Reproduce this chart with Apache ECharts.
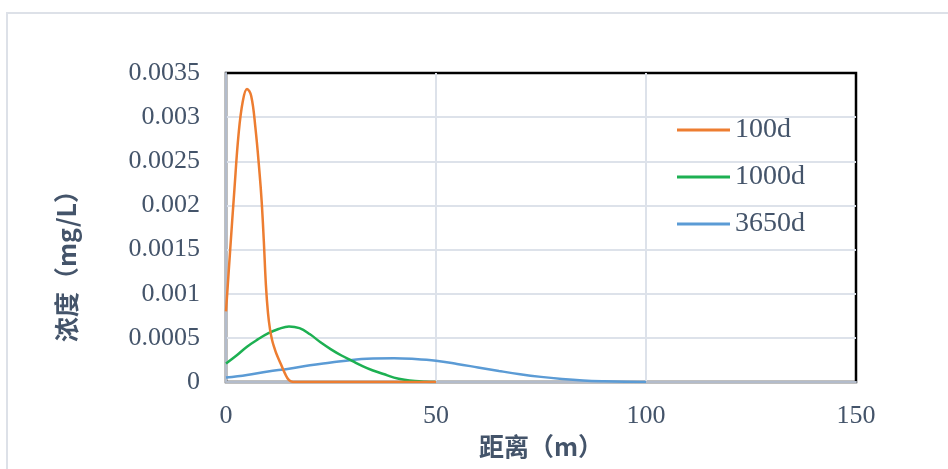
<!DOCTYPE html>
<html>
<head>
<meta charset="utf-8">
<script src="https://cdn.jsdelivr.net/npm/echarts@6/dist/echarts.min.js"></script>
<style>
  html, body { margin: 0; padding: 0; background: #fff; }
  #chart { width: 948px; height: 469px; }
</style>
</head>
<body>
<div id="chart"></div>
<script>
  // 100d
  const x100 = [0, 1, 2, 3, 4, 5, 6, 7, 8, 8.5, 9, 9.5, 10, 10.5, 11, 11.5, 12, 13, 14, 15, 16, 20, 30, 40, 50]
  const y100 = [0.00080, 0.00150, 0.00218, 0.00281, 0.00318, 0.00332, 0.00324, 0.00288, 0.00236, 0.00204,
                0.00160, 0.00110, 0.00078, 0.00059, 0.00047, 0.00039, 0.00032, 0.00021, 0.00010, 0.00002,
                0, 0, 0, 0, 0]
  // 1000d
  const x1000 = [0, 2.5, 5, 7.5, 10, 12.5, 15, 17.5, 20, 22.5, 25, 27.5, 30, 32.5, 35, 37.5, 40, 42.5, 45, 47.5, 50]
  const y1000 = [0.00021, 0.00030, 0.00040, 0.00048, 0.00055, 0.00060, 0.00063, 0.00061, 0.00054, 0.00045,
                 0.00037, 0.00030, 0.00024, 0.00018, 0.00013, 0.00009, 0.00005, 0.000025, 0.00001, 0.000003, 0]
  // 3650d
  const x3650 = [0, 5, 10, 15, 20, 25, 30, 35, 40, 45, 50, 55, 60, 65, 70, 75, 80, 85, 90, 95, 100]
  const y3650 = [0.00005, 0.00008, 0.00012, 0.00015, 0.00019, 0.00022, 0.00025, 0.000265, 0.00027, 0.00026,
                 0.00024, 0.000205, 0.000165, 0.000125, 0.000088, 0.000058, 0.000035, 0.000018, 0.000008, 0.000002, 0]
  const seriesNames = ['100d', '1000d', '3650d']
  const colors = ['#ED7D31', '#1DB052', '#5B9BD5']

  const pairs = (xs, ys) => xs.map((x, i) => [x, ys[i]])
  const seriesData = [pairs(x100, y100), pairs(x1000, y1000), pairs(x3650, y3650)]

  const textColor = '#44546a'
  const serif = '"Liberation Serif", "Times New Roman", serif'

  let myChart = echarts.init(document.getElementById('chart'))
  let option = {
    animation: false,
    color: colors,
    grid: {
      left: 226, right: 92, top: 73, bottom: 87,
      outerBoundsMode: 'none',
      containLabel: false,
      show: true,
      borderColor: '#000',
      borderWidth: 2.5
    },
    legend: {
      orient: 'vertical',
      left: 672,
      top: 111,
      icon: 'rect',
      itemWidth: 53,
      itemHeight: 3,
      itemGap: 19,
      textStyle: { fontFamily: serif, fontSize: 28, color: textColor },
      data: seriesNames
    },
    xAxis: {
      type: 'value',
      min: 0, max: 150, interval: 50,
      axisLine: { show: true, onZero: false, lineStyle: { color: '#b3bccb', width: 2 } },
      axisTick: { show: false },
      axisLabel: { fontFamily: serif, fontSize: 26, color: textColor, margin: 21 },
      splitLine: { show: true, showMinLine: false, showMaxLine: false, lineStyle: { color: '#dde2ea', width: 2 } },
      name: '距离（m）',
      nameLocation: 'middle',
      nameGap: 51,
      nameTextStyle: { fontFamily: '"Noto Sans CJK SC", sans-serif', fontWeight: 'bold', fontSize: 25, color: textColor }
    },
    yAxis: {
      type: 'value',
      min: 0, max: 0.0035, interval: 0.0005,
      axisLine: { show: true, lineStyle: { color: '#b3bccb', width: 2 } },
      axisTick: { show: false },
      axisLabel: {
        fontFamily: serif, fontSize: 26, color: textColor, margin: 26,
        formatter: v => String(Number(v.toFixed(4)))
      },
      splitLine: { show: true, showMinLine: false, showMaxLine: false, lineStyle: { color: '#dde2ea', width: 2 } }
    },
    graphic: [
      {
        type: 'rect', silent: true, z: -10,
        shape: { x: 7, y: 13, width: 1100, height: 600 },
        style: { fill: 'none', stroke: '#dde1e8', lineWidth: 2 }
      },
      {
        type: 'text', silent: true,
        x: 66, y: 260, rotation: Math.PI / 2,
        style: {
          text: '浓度（mg/L）',
          font: 'bold 25px "Noto Sans CJK SC", sans-serif',
          fill: textColor,
          align: 'center',
          verticalAlign: 'middle'
        }
      }
    ],
    series: seriesNames.map((name, i) => ({
      name: name,
      type: 'line',
      data: seriesData[i],
      smooth: 0.4,
      symbol: 'none',
      lineStyle: { width: 2.5, color: colors[i] },
      z: 3 - i
    }))
  }
  myChart.setOption(option)
</script>
</body>
</html>
